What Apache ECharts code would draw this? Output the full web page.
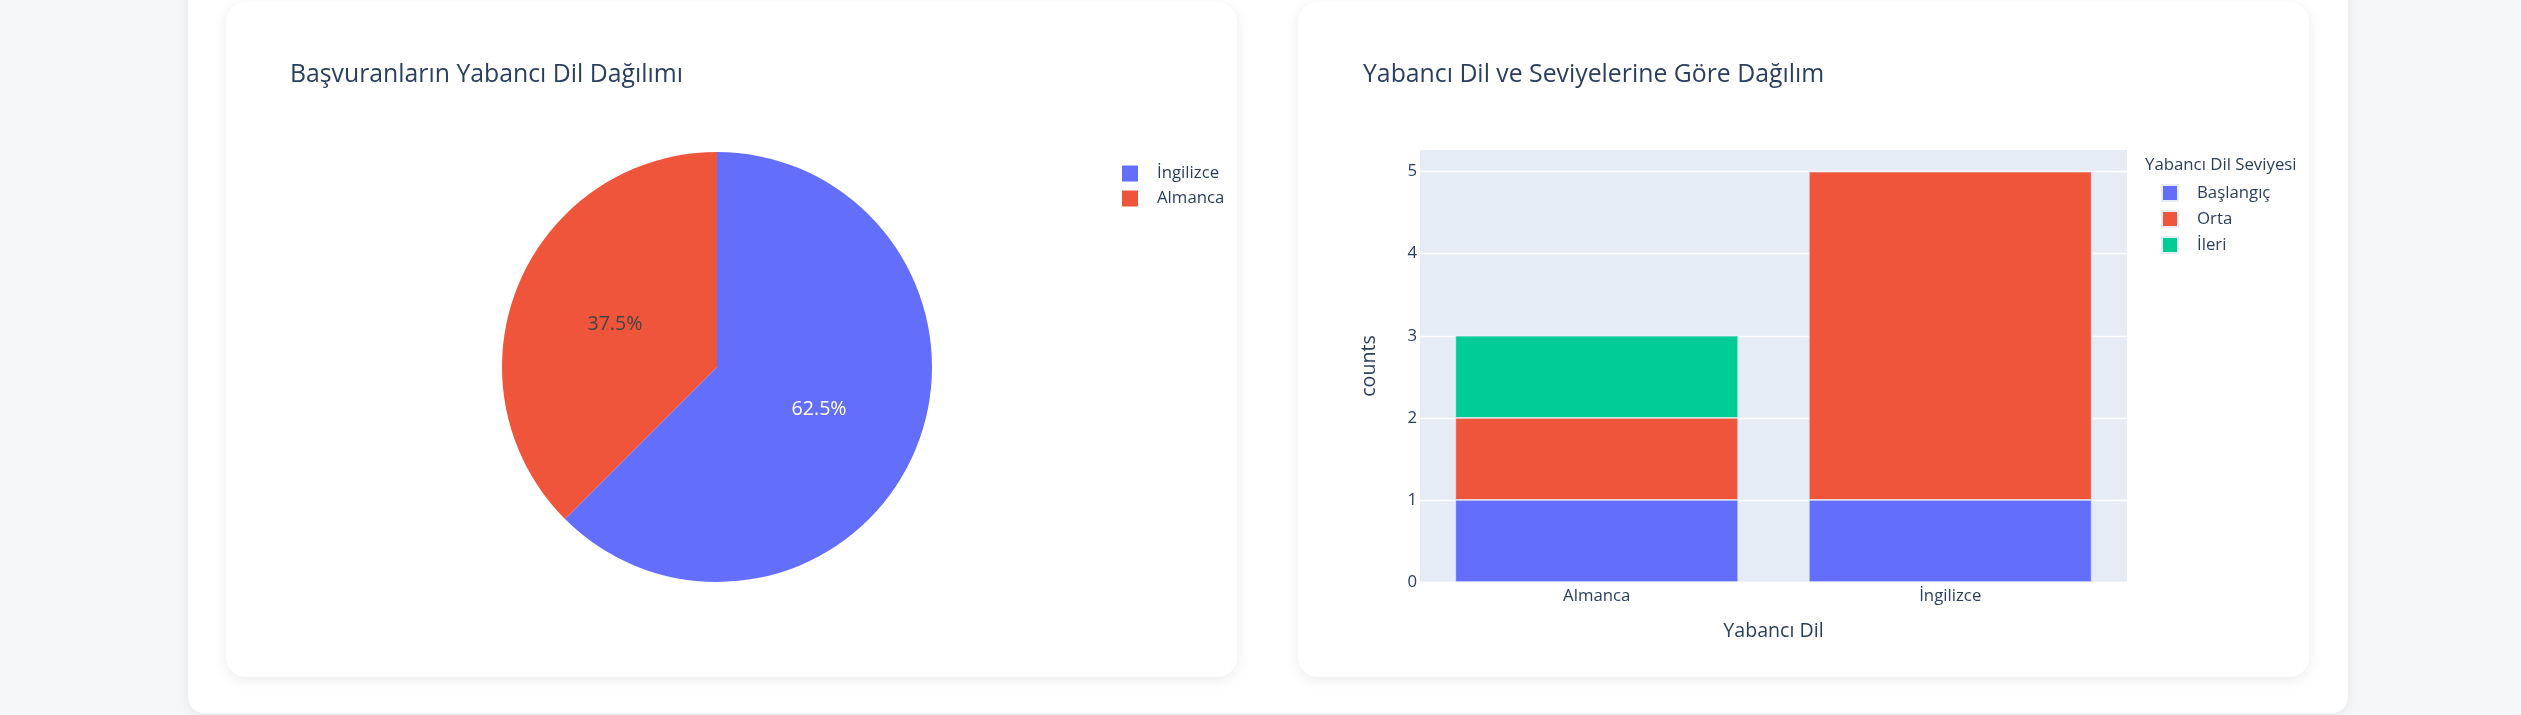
<!DOCTYPE html>
<html>
<head>
<meta charset="utf-8">
<script src="https://cdn.jsdelivr.net/npm/echarts@6/dist/echarts.min.js"></script>
<style>
  html, body { margin: 0; padding: 0; width: 2521px; height: 715px; overflow: hidden; background: #f6f7f9; }
  #outer { position: absolute; left: 188px; top: -40px; width: 2160px; height: 753px; background: #fff; border-radius: 16px; box-shadow: 0 2px 14px rgba(0,0,0,0.07); }
  .card { position: absolute; top: 2px; width: 1011px; height: 675px; background: #fff; border-radius: 20px; box-shadow: 0 3px 14px rgba(0,0,0,0.08); }
  #chart { position: absolute; left: 0; top: 0; width: 2521px; height: 715px; }
</style>
</head>
<body>
<div id="outer"></div>
<div class="card" style="left:226px"></div>
<div class="card" style="left:1298px"></div>
<div id="chart"></div>
<script>
// ---- data ----
const pieTitle = 'Başvuranların Yabancı Dil Dağılımı';
const pieNames = ['İngilizce', 'Almanca'];
const pieValues = [5, 3];

const barTitle = 'Yabancı Dil ve Seviyelerine Göre Dağılım';
const barCategories = ['Almanca', 'İngilizce'];
const levelNames = ['Başlangıç', 'Orta', 'İleri'];
const baslangic = [1, 1];
const orta = [1, 4];
const ileri = [1, 0];
const yAxisMax = 5.263;
const legendTitle = 'Yabancı Dil Seviyesi';
const xAxisTitle = 'Yabancı Dil';
const yAxisTitle = 'counts';

// ---- style ----
const palette = ['#636EFA', '#EF553B', '#00CC96'];
const pieLabelColors = ['#ffffff', '#444444'];
const FONT = "'Open Sans', verdana, arial, sans-serif";
const TXT = '#2a3f5f';

const chart = echarts.init(document.getElementById('chart'), null, { renderer: 'canvas' });

const levelData = [baslangic, orta, ileri];

const legendCommon = {
  orient: 'vertical',
  icon: 'rect',
  itemWidth: 16,
  itemHeight: 16,
  itemGap: 8,
  padding: 0,
  selectedMode: false,
  textStyle: { fontFamily: FONT, fontSize: 16.8, color: TXT, padding: [0, 0, 0, 14], lineHeight: 16 }
};

const titleStyle = { fontFamily: FONT, fontSize: 24.8, fontWeight: 'normal', color: TXT };

const option = {
  backgroundColor: 'transparent',
  animation: false,
  title: [
    { text: pieTitle, left: 290, top: 62, padding: 0, textStyle: titleStyle },
    { text: barTitle, left: 1363, top: 62, padding: 0, textStyle: titleStyle },
    { text: legendTitle, left: 2145, top: 157, padding: 0, textStyle: { fontFamily: FONT, fontSize: 16.8, fontWeight: 'normal', color: TXT } }
  ],
  legend: [
    Object.assign({}, legendCommon, { data: pieNames, left: 1122, top: 165 }),
    Object.assign({}, legendCommon, { data: levelNames, left: 2161, top: 184 })
  ],
  grid: {
    left: 1420, top: 150, width: 707, height: 432,
    show: true, backgroundColor: '#E5ECF6', borderWidth: 0, containLabel: false
  },
  xAxis: {
    type: 'category',
    data: barCategories,
    axisLine: { show: false },
    axisTick: { show: false },
    axisLabel: { margin: 6, color: TXT, fontFamily: FONT, fontSize: 16.8 },
    splitLine: { show: false },
    name: xAxisTitle,
    nameLocation: 'middle',
    nameGap: 39,
    nameTextStyle: { fontFamily: FONT, fontSize: 19.6, color: TXT }
  },
  yAxis: {
    type: 'value',
    min: 0,
    max: yAxisMax,
    interval: 1,
    axisLine: { show: false },
    axisTick: { show: false },
    axisLabel: {
      margin: 3, color: TXT, fontFamily: FONT, fontSize: 16.8,
      formatter: v => (Math.abs(v - Math.round(v)) < 1e-9 ? String(Math.round(v)) : '')
    },
    splitLine: { show: true, showMaxLine: false, lineStyle: { color: '#ffffff', width: 1.4 } },
    name: yAxisTitle,
    nameLocation: 'middle',
    nameGap: 41,
    nameTextStyle: { fontFamily: FONT, fontSize: 19.6, color: TXT }
  },
  series: [
    {
      type: 'pie',
      center: [717, 367],
      radius: 215,
      startAngle: 90,
      clockwise: true,
      avoidLabelOverlap: false,
      label: { show: true, position: 'inside', formatter: '{d}%', fontFamily: FONT, fontSize: 19.6 },
      labelLine: { show: false },
      emphasis: { disabled: true },
      data: pieNames.map((n, i) => ({
        name: n, value: pieValues[i],
        itemStyle: { color: palette[i] },
        label: { color: pieLabelColors[i] }
      }))
    }
  ].concat(levelNames.map((n, i) => ({
    type: 'bar',
    name: n,
    stack: 'total',
    barCategoryGap: '20%',
    itemStyle: { color: palette[i], borderColor: '#E5ECF6', borderWidth: 0.7 },
    emphasis: { disabled: true },
    data: levelData[i].map(v => (v === 0 ? '-' : v))
  })))
};

chart.setOption(option);
</script>
</body>
</html>
